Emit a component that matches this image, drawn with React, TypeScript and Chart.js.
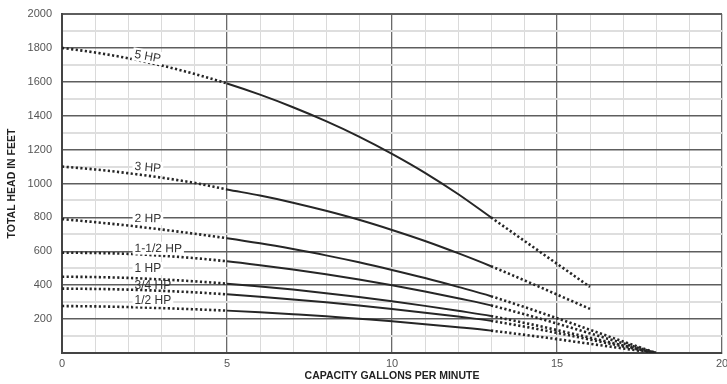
import React, { useEffect, useRef } from "react";
import { Chart, registerables } from "chart.js";

Chart.register(...registerables);

// Capacity (GPM) sample points shared by every pump curve (0..13 GPM)
const CAPACITY_GPM = [0, 1, 2, 3, 4, 5, 6, 7, 8, 9, 10, 11, 12, 13];

// Total head (feet) for each pump size at CAPACITY_GPM
const HEAD_5HP = [1800, 1773, 1739, 1697, 1647, 1590, 1524, 1450, 1368, 1277, 1175, 1063, 938, 800];
const HEAD_3HP = [1100, 1083, 1061, 1035, 1004, 965, 929, 887, 839, 786, 726, 661, 589, 512];
const HEAD_2HP = [790, 772, 752, 729, 704, 677, 647, 613, 576, 535, 490, 442, 390, 335];
const HEAD_1_5HP = [592, 590, 585, 574, 560, 541, 518, 493, 465, 434, 400, 363, 323, 281];
const HEAD_1HP = [450, 448, 443, 434, 423, 409, 392, 374, 353, 330, 305, 278, 249, 218];
const HEAD_3_4HP = [380, 378, 374, 367, 358, 346, 332, 316, 299, 280, 260, 238, 215, 190];
const HEAD_1_2HP = [277, 275, 271, 265, 258, 250, 240, 229, 217, 202, 187, 170, 152, 132];

// End point of each curve's dotted tail
const TAIL_GPM = [16, 16, 18, 18, 18, 18, 18];
const TAIL_HEAD = [390, 260, 0, 0, 0, 0, 0];

const SERIES_NAMES = ["5 HP", "3 HP", "2 HP", "1-1/2 HP", "1 HP", "3/4 HP", "1/2 HP"];
const SERIES_HEADS = [HEAD_5HP, HEAD_3HP, HEAD_2HP, HEAD_1_5HP, HEAD_1HP, HEAD_3_4HP, HEAD_1_2HP];

// Recommended (solid) operating range in GPM
const SOLID_FROM = 5;
const SOLID_TO = 13;

// Curve label anchors (data coords) and tilt in degrees
const LABEL_GPM = [2.2, 2.2, 2.2, 2.2, 2.2, 2.2, 2.2];
const LABEL_HEAD = [1764, 1103, 796, 619, 498, 401, 313];
const LABEL_ANGLE = [10, 5, 1, 0.5, 0, 0, 0];
const LABEL_BG = [true, true, true, true, true, false, true];

const X_TICKS_LABELED = [0, 5, 10, 15, 20];

const FONT = '"Liberation Sans", Arial, Helvetica, sans-serif';

export default function App() {
  const ref = useRef<HTMLCanvasElement | null>(null);

  useEffect(() => {
    if (!ref.current) return;

    const datasets = SERIES_NAMES.map((name, i) => {
      const pts = CAPACITY_GPM.map((x, j) => ({ x, y: SERIES_HEADS[i][j] }));
      pts.push({ x: TAIL_GPM[i], y: TAIL_HEAD[i] });
      return {
        label: name,
        data: pts,
        borderColor: "#262626",
        borderWidth: 2,
        pointRadius: 0,
        cubicInterpolationMode: "monotone",
        fill: false,
        segment: {
          borderDash: (ctx: any) =>
            ctx.p0.parsed.x < SOLID_FROM || ctx.p0.parsed.x >= SOLID_TO ? [2.2, 2.4] : [],
          borderWidth: (ctx: any) =>
            ctx.p0.parsed.x < SOLID_FROM || ctx.p0.parsed.x >= SOLID_TO ? 2.6 : 2,
        },
      };
    });

    const labelPlugin = {
      id: "curveLabels",
      afterDatasetsDraw(chart: any) {
        const { ctx, scales } = chart;
        ctx.save();
        ctx.font = `12px ${FONT}`;
        ctx.textBaseline = "middle";
        ctx.textAlign = "left";
        SERIES_NAMES.forEach((name, i) => {
          const px = scales.x.getPixelForValue(LABEL_GPM[i]);
          const py = scales.y.getPixelForValue(LABEL_HEAD[i]);
          ctx.save();
          ctx.translate(px, py);
          ctx.rotate((LABEL_ANGLE[i] * Math.PI) / 180);
          const w = ctx.measureText(name).width;
          if (LABEL_BG[i]) {
            ctx.fillStyle = "#ffffff";
            ctx.fillRect(-2, -6.5, w + 4, 13);
          }
          ctx.fillStyle = "#333333";
          ctx.fillText(name, 0, 0.5);
          ctx.restore();
        });
        ctx.restore();
      },
    };

    const chart = new Chart(ref.current, {
      type: "line",
      data: { datasets },
      plugins: [labelPlugin],
      options: {
        animation: false,
        responsive: false,
        maintainAspectRatio: false,
        layout: { padding: { top: 14, right: 5, left: 0, bottom: 0 } },
        plugins: { legend: { display: false }, tooltip: { enabled: false } },
        scales: {
          x: {
            type: "linear",
            min: 0,
            max: 20,
            afterFit(scale: any) {
              scale.height = 31;
              scale.paddingLeft = 0;
              scale.paddingRight = 0;
            },
            ticks: {
              stepSize: 1,
              autoSkip: false,
              maxRotation: 0,
              padding: 4,
              color: "#555555",
              font: { family: FONT, size: 11 },
              callback: (v: any) => (X_TICKS_LABELED.includes(Number(v)) ? String(v) : ""),
            },
            grid: {
              drawTicks: false,
              color: (c: any) => (c.tick && c.tick.value % 5 === 0 ? "#6a6a6a" : "#dadada"),
              lineWidth: (c: any) => (c.tick && c.tick.value % 5 === 0 ? 1.3 : 1),
            },
            border: { display: true, color: "#444444", width: 2 },
            title: {
              display: true,
              text: "CAPACITY GALLONS PER MINUTE",
              color: "#222222",
              font: { family: FONT, size: 10.5, weight: "bold" },
              padding: { top: 0, bottom: 2 },
            },
          },
          y: {
            type: "linear",
            min: 0,
            max: 2000,
            afterFit(scale: any) {
              scale.width = 62;
              scale.paddingTop = 0;
              scale.paddingBottom = 0;
            },
            ticks: {
              stepSize: 100,
              autoSkip: false,
              padding: 10,
              color: "#555555",
              font: { family: FONT, size: 11 },
              callback: (v: any) => (Number(v) % 200 === 0 && Number(v) !== 0 ? String(v) : ""),
            },
            grid: {
              drawTicks: false,
              color: (c: any) => (c.tick && c.tick.value % 200 === 0 ? "#5e5e5e" : "#dedede"),
              lineWidth: (c: any) => (c.tick && c.tick.value % 200 === 0 ? (c.tick.value === 2000 ? 2 : 1.5) : 2),
            },
            border: { display: true, color: "#444444", width: 2 },
            title: {
              display: true,
              text: "TOTAL HEAD IN FEET",
              color: "#222222",
              font: { family: FONT, size: 10.5, weight: "bold" },
              padding: { top: 6, bottom: 0 },
            },
          },
        },
      },
    } as any);

    return () => chart.destroy();
  }, []);

  return (
    <div style={{ position: "absolute", left: 0, top: 0, width: 727, height: 384, background: "#fff" }}>
      <canvas ref={ref} width={727} height={384} style={{ display: "block" }} />
    </div>
  );
}
